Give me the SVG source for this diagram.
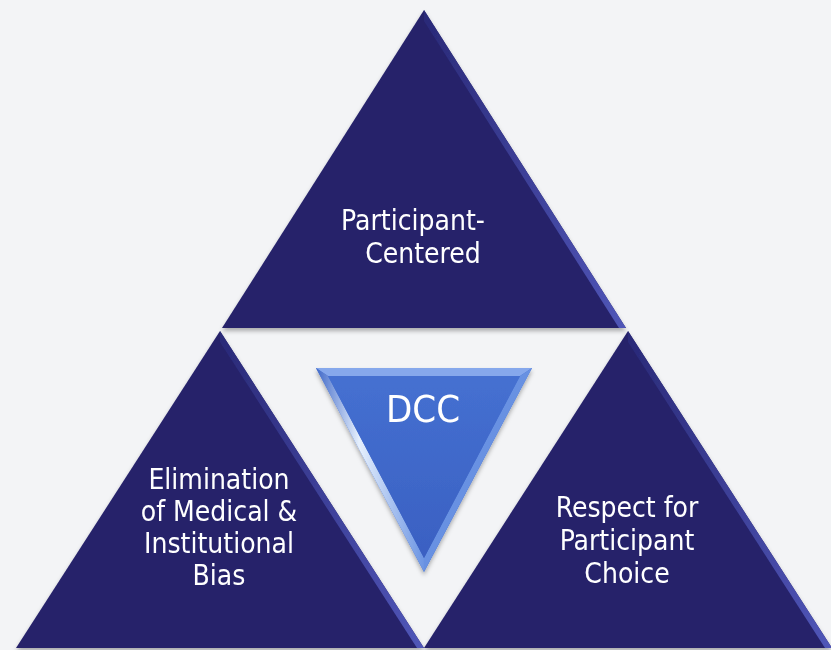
<svg xmlns="http://www.w3.org/2000/svg" width="831" height="650" viewBox="0 0 831 650">
<defs>
<style>
.tri{fill:#25226b}
.bev{fill:url(#bevG)}
.lbl{font-family:"DejaVu Sans Condensed","DejaVu Sans",sans-serif;font-size:28px;fill:#ffffff;text-anchor:middle}
.dcc{font-family:"DejaVu Sans Condensed","DejaVu Sans",sans-serif;font-size:38px;fill:#ffffff;text-anchor:middle}
</style>
<linearGradient id="bevG" x1="0" y1="0" x2="1" y2="0">
<stop offset="0" stop-color="#2a2a78"/>
<stop offset="1" stop-color="#5056b8"/>
</linearGradient>
<linearGradient id="dccFill" x1="0" y1="0" x2="0" y2="1">
<stop offset="0" stop-color="#4570d1"/>
<stop offset="1" stop-color="#3a60c2"/>
</linearGradient>
<linearGradient id="dccLeft" x1="0" y1="0" x2="1" y2="0">
<stop offset="0" stop-color="#3f68c8"/>
<stop offset="0.4" stop-color="#e6f0fd"/>
<stop offset="1" stop-color="#6c95e3"/>
</linearGradient>
<filter id="sh" x="-10%" y="-10%" width="120%" height="120%">
<feDropShadow dx="0" dy="3" stdDeviation="2" flood-color="#000000" flood-opacity="0.3"/>
</filter>
</defs>
<rect width="831" height="650" fill="#f3f4f6"/>
<g id="node-top" filter="url(#sh)">
<polygon class="tri" points="424,10 626,328 222,328"/>
<polygon class="bev" points="424,10 626,328 619,328 424,21"/>
<text class="lbl" x="413" y="230">Participant-</text>
<text class="lbl" x="423" y="263">Centered</text>
</g>
<g id="node-left" filter="url(#sh)">
<polygon class="tri" points="220,331 424,648 16,648"/>
<polygon class="bev" points="220,331 424,648 417,648 220,342"/>
<text class="lbl" x="219" y="489">Elimination</text>
<text class="lbl" x="219" y="521">of Medical &amp;</text>
<text class="lbl" x="219" y="553">Institutional</text>
<text class="lbl" x="219" y="585">Bias</text>
</g>
<g id="node-right" filter="url(#sh)">
<polygon class="tri" points="628,331 832,648 424,648"/>
<polygon class="bev" points="628,331 832,648 825,648 628,342"/>
<text class="lbl" x="627" y="517">Respect for</text>
<text class="lbl" x="627" y="550">Participant</text>
<text class="lbl" x="627" y="583">Choice</text>
</g>
<g id="node-dcc" filter="url(#sh)">
<polygon points="316,368 532,368 424,572" fill="url(#dccFill)"/>
<polygon points="316,368 532,368 520,376 328,376" fill="#86a8ec"/>
<polygon points="316,368 328,376 424,558 424,572" fill="url(#dccLeft)"/>
<polygon points="532,368 424,572 424,558 520,376" fill="#6891e2"/>
<polygon points="328,376 520,376 424,558" fill="url(#dccFill)"/>
<text class="dcc" x="423" y="422">DCC</text>
</g>
<g id="connectors"/>
</svg>
